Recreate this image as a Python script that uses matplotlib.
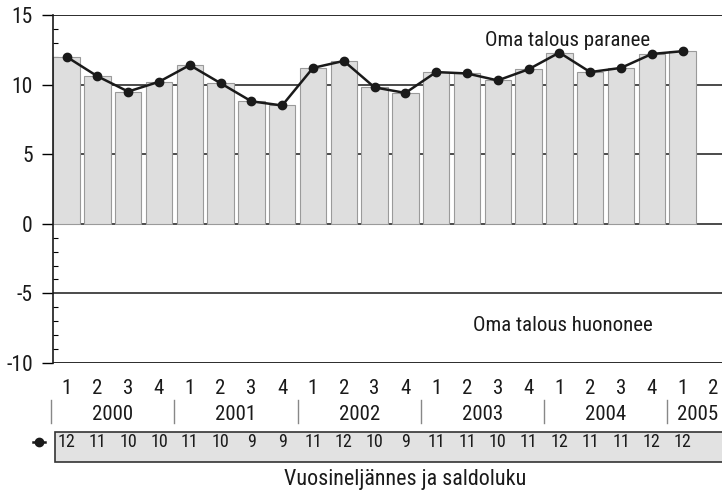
import matplotlib
matplotlib.use("Agg")
import matplotlib.pyplot as plt
from matplotlib.patches import Rectangle
from matplotlib.lines import Line2D

plt.rcParams['font.family'] = ['Roboto Condensed', 'DejaVu Sans']
plt.rcParams['axes.unicode_minus'] = False

# ---- data ----
quarter_labels = ['1', '2', '3', '4'] * 5 + ['1', '2']
years = ['2000', '2001', '2002', '2003', '2004', '2005']
values = [12.0, 10.6, 9.5, 10.2, 11.4, 10.1, 8.8, 8.5, 11.2, 11.7, 9.8, 9.4,
          10.9, 10.8, 10.3, 11.1, 12.3, 10.9, 11.2, 12.2, 12.4]
saldo = [12, 11, 10, 10, 11, 10, 9, 9, 11, 12, 10, 9, 11, 11, 10, 11, 12, 11, 11, 12, 12]
yticks = [-10, -5, 0, 5, 10, 15]
label_up = 'Oma talous paranee'
label_down = 'Oma talous huononee'
xlabel = 'Vuosineljännes ja saldoluku'

fig = plt.figure(figsize=(7.22, 4.9), dpi=100)
ax = fig.add_axes([53 / 722, 1 - 363 / 490, 1 - 53 / 722, 348 / 490])

x = list(range(len(values)))
ax.bar(x, values, width=0.86, color='#dedede', edgecolor='#9a9a9a', linewidth=0.8, zorder=2)
ax.plot(x, values, color='#1a1a1a', lw=1.8, marker='o', ms=6, zorder=3)

for yv in yticks:
    ax.axhline(yv, color='#1a1a1a', lw=1.3 if yv in (15, -10) else 1.1, zorder=1)

ax.set_xlim(-0.44, 21.28)
ax.set_ylim(-10, 15)
ax.set_yticks(yticks)
ax.set_yticks(range(-10, 16), minor=True)
ax.tick_params(axis='y', which='major', direction='out', length=8, width=1, labelsize=15.5,
               pad=6.5, labelcolor='#1a1a1a')
ax.tick_params(axis='y', which='minor', direction='in', length=3.5, width=0.8)
ax.set_xticks([])
for s in ['top', 'right', 'bottom']:
    ax.spines[s].set_visible(False)
ax.spines['left'].set_linewidth(1.2)
ax.spines['left'].set_color('#1a1a1a')

ax.text(16.28, 13.2, label_up, ha='center', va='center', fontsize=15, color='#1a1a1a')
ax.text(16.1, -7.3, label_down, ha='center', va='center', fontsize=15, color='#1a1a1a')

tr = ax.get_xaxis_transform()
for i, q in enumerate(quarter_labels):
    ax.text(i, -0.072, q, transform=tr, ha='center', va='center', fontsize=15, color='#1a1a1a')
for j, yr in enumerate(years):
    start = 4 * j
    span = min(4, len(quarter_labels) - start)
    ax.text(start + (span - 1) / 2, -0.147, yr, transform=tr, ha='center', va='center',
            fontsize=15, color='#1a1a1a')
    ax.add_line(Line2D([start - 0.5, start - 0.5], [-0.107, -0.172], transform=tr,
                       color='#888888', lw=1, clip_on=False))

ax.add_patch(Rectangle((-0.37, -0.284), 22.0, 0.086, transform=tr, facecolor='#e2e2e2',
                       edgecolor='#333333', lw=1.2, clip_on=False, zorder=1))
for i, v in enumerate(saldo):
    ax.text(i, -0.227, str(v), transform=tr, ha='center', va='center', fontsize=13,
            color='#1a1a1a')
ax.add_line(Line2D([-1.1, -0.7], [-0.227, -0.227], transform=tr, color='#1a1a1a', lw=1.8,
                   clip_on=False))
ax.add_line(Line2D([-0.9], [-0.227], transform=tr, color='#1a1a1a', marker='o', ms=6,
                   clip_on=False))

ax.text(11.0, -0.336, xlabel, transform=tr, ha='center', va='center', fontsize=15.8,
        color='#1a1a1a')

fig.savefig('out.png', dpi=100)
